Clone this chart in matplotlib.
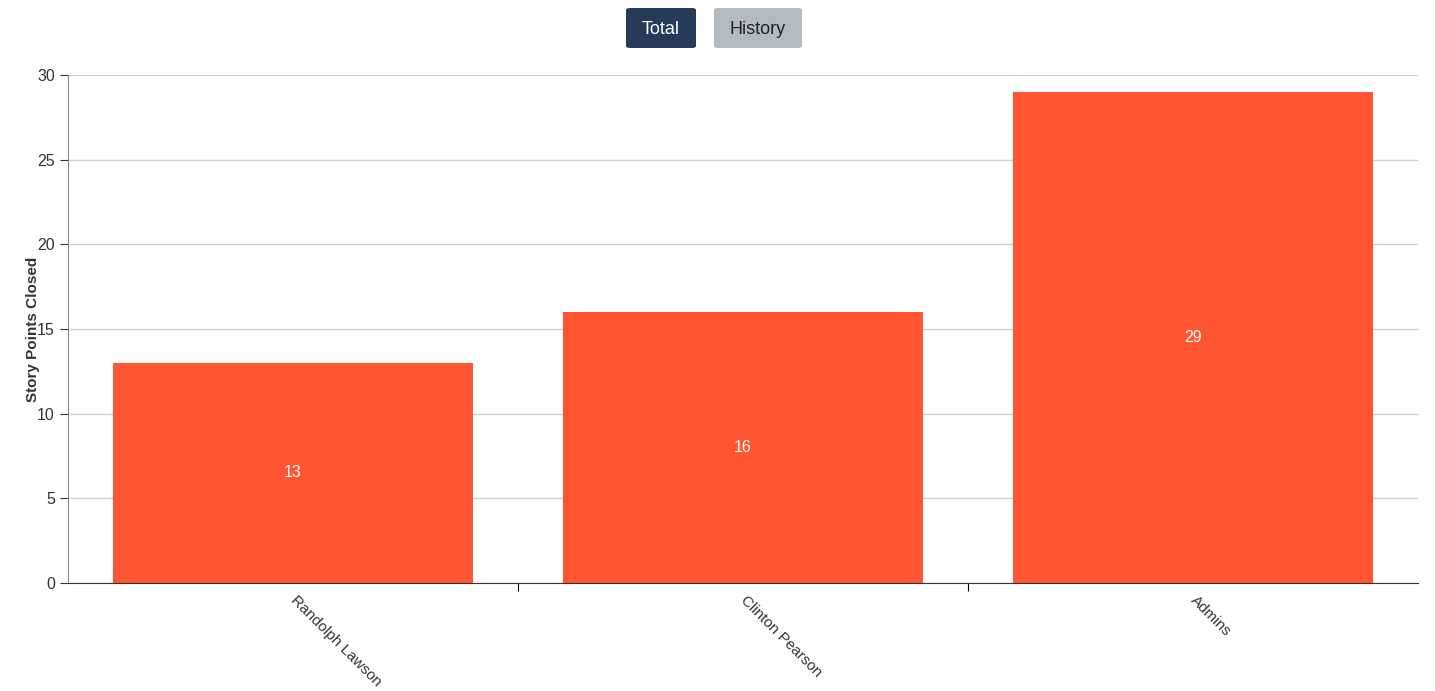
import matplotlib
matplotlib.use("Agg")
import matplotlib.pyplot as plt
from matplotlib.patches import FancyBboxPatch

categories = ["Randolph Lawson", "Clinton Pearson", "Admins"]
values = [13, 16, 29]
yticks = [0, 5, 10, 15, 20, 25, 30]

plt.rcParams['font.family'] = ['Liberation Sans', 'DejaVu Sans']
fig = plt.figure(figsize=(14.35, 6.91), dpi=100)
ax = fig.add_axes([68/1435, 108/691, 1350/1435, 508/691])

x = list(range(len(categories)))
bars = ax.bar(x, values, width=0.8, color="#FF5533", zorder=2)
for xi, v in zip(x, values):
    ax.text(xi, v/2, str(v), color="white", ha="center", va="center", fontsize=11.5, zorder=3)

ax.set_xlim(-0.5, len(categories)-0.5)
ax.set_ylim(0, 30)
ax.set_yticks(yticks)
ax.tick_params(axis='y', labelsize=11.5, colors="#333333", length=6)
ax.grid(axis='y', color="#d0d0d0", linewidth=1, zorder=0)
ax.set_xticks([0.5, 1.5])
ax.set_xticklabels([])
ax.tick_params(axis='x', length=6)
for xi, c in zip(x, categories):
    ax.text(xi, -0.9, c, rotation=-45, rotation_mode="anchor", ha="left", va="center",
            fontsize=11, color="#333333", transform=ax.transData)
for s in ["top", "right"]:
    ax.spines[s].set_visible(False)
ax.spines["left"].set_color("#888888")
ax.spines["bottom"].set_color("#333333")
ax.set_ylabel("Story Points Closed", fontsize=11, fontweight="bold", color="#333333", labelpad=2)
ax.yaxis.set_label_coords(-28/1350, 0.5)

def button(x0, x1, text, fc):
    W, H = 1435, 691
    p = FancyBboxPatch((x0/W, 1-48/H), (x1-x0)/W, 40/H, boxstyle="round,pad=0,rounding_size=0.003",
                       transform=fig.transFigure, fc=fc, ec="none")
    fig.patches.append(p)
    fig.text((x0+x1)/2/W, 1-29/H, text, ha="center", va="center", fontsize=13,
             color="white" if fc == "#263A5A" else "#222222")

button(626, 696, "Total", "#263A5A")
button(714, 802, "History", "#B3BAC2")

fig.savefig("out.png", dpi=100)
